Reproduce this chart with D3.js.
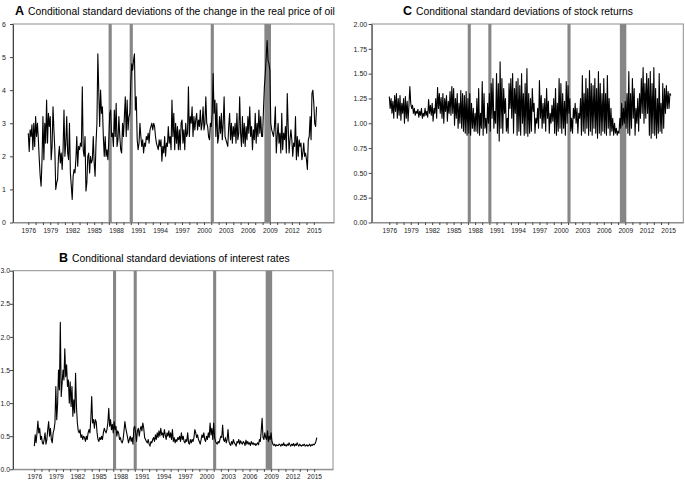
<!DOCTYPE html>
<html><head><meta charset="utf-8">
<script src="https://cdn.jsdelivr.net/npm/d3@7"></script>
<style>body{margin:0;background:#fff}text{font-family:"Liberation Sans",Arial,sans-serif}</style>
</head><body>
<svg id="chart" width="685" height="483"></svg>
<script>
// ---------- DATA ----------
const startYear = 1976;
const perYear = 8;

// Panel A: conditional s.d. of change in real price of oil
const oilSd = [
 2.7,2.15,2.8,2.6,2.95,2.2,3.0,2.3,
 3.2,2.6,3.0,2.5,1.9,1.4,1.1,1.9,
 3.2,1.9,3.0,2.4,3.7,2.4,3.3,2.9,
 3.2,1.9,2.3,3.5,2.8,2.2,1.0,1.2,
 1.3,2.0,2.3,1.8,2.1,1.6,2.2,3.4,
 2.0,2.4,3.2,2.1,1.9,3.0,1.5,1.1,
 0.7,1.4,1.6,1.5,1.9,2.6,1.7,2.3,
 2.2,2.4,2.3,4.1,2.2,2.0,2.6,0.95,
 1.2,2.0,2.1,1.5,2.0,1.8,1.9,2.6,
 1.8,1.4,2.4,3.0,5.1,4.0,2.9,4.0,
 3.3,3.5,2.6,2.0,2.6,2.0,2.2,1.9,
 2.5,3.3,3.4,2.6,2.7,2.3,3.4,2.6,
 3.6,2.3,2.5,3.2,2.6,2.2,2.1,3.0,
 2.6,3.2,3.8,2.6,3.7,2.8,3.2,3.3,
 4.2,4.8,4.6,4.9,5.1,3.4,3.8,2.5,
 2.2,2.4,3.0,2.6,2.3,2.5,2.1,2.4,
 2.3,2.6,2.5,2.7,2.4,2.8,2.9,3.0,
 2.8,3.0,2.9,2.6,2.4,2.3,2.2,2.5,
 2.3,2.5,1.85,2.3,2.1,2.6,2.0,2.4,
 2.3,2.9,2.4,2.6,2.2,3.7,2.6,3.3,
 2.2,3.0,2.4,2.9,2.2,2.8,2.2,3.0,
 3.1,2.4,2.8,2.2,3.0,2.6,2.7,4.1,
 2.6,3.2,3.0,3.5,2.6,3.2,2.8,3.1,
 3.3,2.8,3.1,2.9,3.4,2.8,3.0,3.5,
 2.8,3.0,3.8,3.0,2.9,2.6,2.5,3.0,
 2.9,3.3,4.5,3.3,3.7,2.6,3.6,2.4,
 2.6,3.2,2.7,3.3,2.5,3.0,3.8,2.6,
 2.5,2.4,2.3,2.9,3.3,2.5,3.0,2.4,
 2.9,2.6,3.0,2.4,3.3,2.5,2.7,3.8,
 2.7,2.3,3.2,2.4,3.0,2.3,2.9,2.5,
 3.2,2.7,3.5,2.6,2.9,2.2,2.8,2.5,
 3.3,2.4,3.0,2.6,3.4,2.7,3.2,2.6,
 2.6,3.4,4.1,4.5,5.0,5.5,4.9,4.8,
 4.6,3.0,2.8,2.7,2.6,2.9,3.5,2.1,
 2.6,3.0,2.4,2.7,2.1,3.3,2.2,2.7,
 2.5,2.9,2.1,3.9,2.9,2.1,2.5,2.8,
 2.5,2.0,2.4,2.3,3.2,1.9,2.6,2.0,
 2.5,2.3,2.4,1.9,2.1,2.4,2.0,2.1,
 1.9,1.6,2.5,2.6,3.2,2.5,3.9,4.0,
 3.6,3.0,2.9,3.5
];

// Panel C: conditional s.d. of stock returns
const stockSd = [
 1.27,1.15,1.25,1.10,1.22,1.05,1.28,1.12,
 1.30,1.05,1.25,1.08,1.28,1.03,1.20,1.10,
 1.25,1.00,1.27,1.05,1.22,1.02,1.18,1.37,
 1.20,1.15,1.18,1.10,1.15,1.08,1.12,1.10,
 1.14,1.06,1.12,1.08,1.15,1.05,1.10,1.07,
 1.15,1.08,1.12,1.06,1.24,1.10,1.18,1.08,
 1.20,1.02,1.15,1.10,1.25,1.05,1.36,1.15,
 1.30,1.10,1.26,1.05,1.30,1.00,1.25,1.12,
 1.28,1.02,1.22,1.10,1.32,1.08,1.37,1.10,
 1.35,0.98,1.25,1.05,1.30,0.95,1.20,1.00,
 1.33,0.95,1.30,0.92,1.28,0.90,1.32,0.88,
 1.25,0.90,1.30,0.88,1.20,0.95,1.15,0.92,
 1.10,0.92,1.25,0.90,1.35,0.88,1.10,0.95,
 1.42,0.88,1.30,0.95,1.05,0.90,1.20,1.00,
 1.30,0.92,1.40,1.05,1.45,0.95,1.12,1.00,
 1.50,0.90,1.40,0.82,1.62,0.95,1.45,0.90,
 1.35,1.10,1.25,0.92,1.05,0.90,1.40,1.15,
 1.45,1.05,1.50,0.90,1.35,1.10,1.42,0.88,
 1.45,0.92,1.38,0.88,1.50,1.00,1.30,0.88,
 1.40,0.90,1.55,0.87,1.30,0.90,1.25,0.92,
 1.35,1.12,1.20,0.90,1.05,1.00,1.15,0.95,
 1.43,1.05,1.28,0.95,1.20,1.00,1.25,0.92,
 1.35,1.05,1.22,0.90,1.10,1.00,1.18,1.02,
 1.25,0.90,1.35,0.88,1.20,0.92,1.45,0.95,
 1.40,0.90,1.30,0.95,1.22,0.88,1.42,1.00,
 1.38,1.10,1.25,0.92,1.05,0.90,1.15,1.05,
 1.20,1.00,1.15,0.90,1.10,1.05,1.25,0.88,
 1.48,0.92,1.30,0.90,1.45,0.95,1.35,0.88,
 1.53,0.92,1.40,0.88,1.38,0.95,1.45,0.90,
 1.35,0.85,1.52,0.90,1.40,0.88,1.30,0.92,
 1.45,0.90,1.30,0.88,1.48,0.95,1.25,0.88,
 1.15,0.92,1.05,0.88,1.00,0.90,0.95,0.88,
 0.92,0.90,1.05,0.95,1.20,0.98,1.15,1.00,
 1.22,0.95,1.30,0.90,1.52,0.88,1.30,0.95,
 1.45,1.05,1.35,0.88,1.15,1.00,1.25,0.92,
 1.30,1.05,1.45,1.10,1.56,1.00,1.40,1.05,
 1.50,1.10,1.45,0.88,1.52,0.85,1.40,0.90,
 1.56,0.88,1.35,0.85,1.25,0.90,1.50,0.92,
 1.20,0.90,1.40,0.95,1.35,1.10,1.38,1.15,
 1.32,1.15,1.30,1.28
];

// Panel B: conditional s.d. of interest rates
const rateSd = [
 0.35,0.52,0.40,0.55,0.73,0.55,0.62,0.45,
 0.50,0.40,0.38,0.45,0.55,0.38,0.45,0.60,
 0.72,0.50,0.62,0.45,0.40,0.55,0.60,0.70,
 1.25,0.75,1.00,1.50,1.20,2.22,1.10,1.30,
 1.50,1.35,1.82,1.40,1.58,1.25,1.35,1.00,
 1.32,0.95,1.25,0.80,1.05,0.85,1.45,0.95,
 0.70,0.58,0.55,0.60,0.48,0.52,0.45,0.50,
 0.48,0.42,0.50,0.45,0.55,0.60,0.55,0.75,
 1.10,0.70,0.75,0.62,0.75,0.72,0.55,0.45,
 0.42,0.48,0.45,0.50,0.45,0.55,0.62,0.58,
 0.55,0.60,0.70,0.92,0.65,0.75,0.60,0.68,
 0.55,0.72,0.60,0.65,0.50,0.58,0.55,0.45,
 0.48,0.42,0.40,0.45,0.58,0.72,0.62,0.55,
 0.48,0.40,0.45,0.50,0.42,0.48,0.38,0.62,
 0.65,0.55,0.42,0.58,0.62,0.50,0.60,0.65,
 0.58,0.70,0.62,0.48,0.45,0.42,0.40,0.45,
 0.38,0.35,0.42,0.40,0.45,0.48,0.42,0.52,
 0.45,0.55,0.48,0.58,0.50,0.62,0.52,0.55,
 0.48,0.60,0.52,0.45,0.55,0.50,0.58,0.48,
 0.55,0.45,0.60,0.42,0.48,0.40,0.45,0.42,
 0.48,0.45,0.50,0.42,0.55,0.45,0.50,0.42,
 0.40,0.45,0.42,0.55,0.40,0.38,0.45,0.40,
 0.45,0.42,0.48,0.60,0.55,0.48,0.52,0.45,
 0.42,0.38,0.45,0.52,0.48,0.55,0.45,0.42,
 0.50,0.45,0.55,0.48,0.70,0.52,0.62,0.45,
 0.70,0.48,0.42,0.40,0.38,0.42,0.40,0.45,
 0.50,0.48,0.67,0.45,0.42,0.48,0.40,0.45,
 0.60,0.42,0.38,0.36,0.42,0.38,0.45,0.40,
 0.38,0.35,0.42,0.40,0.45,0.38,0.43,0.40,
 0.38,0.42,0.40,0.36,0.44,0.38,0.42,0.38,
 0.40,0.36,0.42,0.38,0.40,0.37,0.39,0.36,
 0.38,0.40,0.37,0.45,0.42,0.58,0.77,0.48,
 0.45,0.55,0.48,0.45,0.58,0.42,0.50,0.45,
 0.55,0.42,0.38,0.36,0.38,0.35,0.37,0.36,
 0.36,0.38,0.37,0.35,0.38,0.36,0.40,0.36,
 0.37,0.35,0.38,0.36,0.40,0.37,0.35,0.38,
 0.36,0.39,0.35,0.38,0.36,0.40,0.37,0.35,
 0.38,0.36,0.35,0.37,0.36,0.38,0.35,0.36,
 0.37,0.35,0.36,0.38,0.35,0.37,0.36,0.38,
 0.37,0.39,0.42,0.48
];

// Shaded episodes (decimal years)
const shadedPeriods = [[1986.97,1987.40],[1989.85,1990.28],[2000.92,2001.35],[2008.25,2009.15]];

const yearTicks = d3.range(1976, 2016, 1);
const labelYears = d3.range(1976, 2016, 3);
const oilTicks = [0,1,2,3,4,5,6];
const stockTicks = [0,0.25,0.5,0.75,1,1.25,1.5,1.75,2];
const rateTicks = [0,0.5,1,1.5,2,2.5,3];

// ---------- DRAW ----------
const svg = d3.select('#chart');

function panel(cfg){
  const g = svg.append('g');
  const x = d3.scaleLinear().domain(cfg.xDomain).range([cfg.left, cfg.right]);
  const y = d3.scaleLinear().domain([cfg.yTicks[0], cfg.yTicks[cfg.yTicks.length-1]]).range([cfg.bottom, cfg.top]);

  g.selectAll('rect.shade').data(shadedPeriods).join('rect')
    .attr('class','shade')
    .attr('x', d => x(d[0])).attr('width', d => x(d[1]) - x(d[0]))
    .attr('y', cfg.top).attr('height', cfg.bottom - cfg.top)
    .attr('fill', '#868686');

  const line = d3.line().x((d,i) => x(startYear + i/perYear)).y(d => y(d));
  g.append('path').datum(cfg.data).attr('d', line)
    .attr('fill','none').attr('stroke','#000').attr('stroke-width',1.1)
    .attr('stroke-linejoin','round');

  // frame
  g.append('rect').attr('x', cfg.left).attr('y', cfg.top)
    .attr('width', cfg.right - cfg.left).attr('height', cfg.bottom - cfg.top)
    .attr('fill','none').attr('stroke','#8c8c8c').attr('stroke-width',1);

  // y axis
  const ya = g.append('g').attr('transform', `translate(${cfg.left},0)`)
    .call(d3.axisLeft(y).tickValues(cfg.yTicks).tickFormat(d3.format(cfg.fmt))
      .tickSizeInner(3).tickSizeOuter(0).tickPadding(cfg.yPad));
  ya.select('.domain').attr('stroke','#444');
  ya.selectAll('.tick line').attr('stroke','#444');
  ya.selectAll('text').attr('font-size', cfg.yFont).attr('fill','#222');

  // x axis
  const xa = g.append('g').attr('transform', `translate(0,${cfg.bottom})`)
    .call(d3.axisBottom(x).tickValues(yearTicks)
      .tickFormat(d => labelYears.includes(d) ? d : '')
      .tickSizeInner(2.5).tickSizeOuter(0).tickPadding(3));
  xa.select('.domain').attr('stroke','#8c8c8c');
  xa.selectAll('.tick line').attr('stroke','#444');
  xa.selectAll('text').attr('font-size', 6.6).attr('fill','#222');

  // title
  const t = g.append('text').attr('x', cfg.titleX).attr('y', cfg.titleY).attr('fill','#000');
  t.append('tspan').attr('font-weight','bold').attr('font-size', 12.5).text(cfg.letter);
  t.append('tspan').attr('font-size', 10.3).attr('dx', 4).text(cfg.title);
}

panel({data: oilSd, letter:'A', title:'Conditional standard deviations of the change in the real price of oil',
  left:13, right:334, top:24, bottom:222.5, xDomain:[1973.91, 2017.76],
  yTicks: oilTicks, fmt:'d', yPad:4, yFont:7, titleX:15, titleY:15});

panel({data: stockSd, letter:'C', title:'Conditional standard deviations of stock returns',
  left:371.7, right:683.3, top:24, bottom:222.5, xDomain:[1973.54, 2017.12],
  yTicks: stockTicks, fmt:'.2f', yPad:1.5, yFont:7, titleX:403, titleY:15});

panel({data: rateSd, letter:'B', title:'Conditional standard deviations of interest rates',
  left:13, right:333, top:270.7, bottom:469.3, xDomain:[1973.03, 2017.63],
  yTicks: rateTicks, fmt:'.1f', yPad:0, yFont:6.8, titleX:59, titleY:262});
</script>
</body></html>
